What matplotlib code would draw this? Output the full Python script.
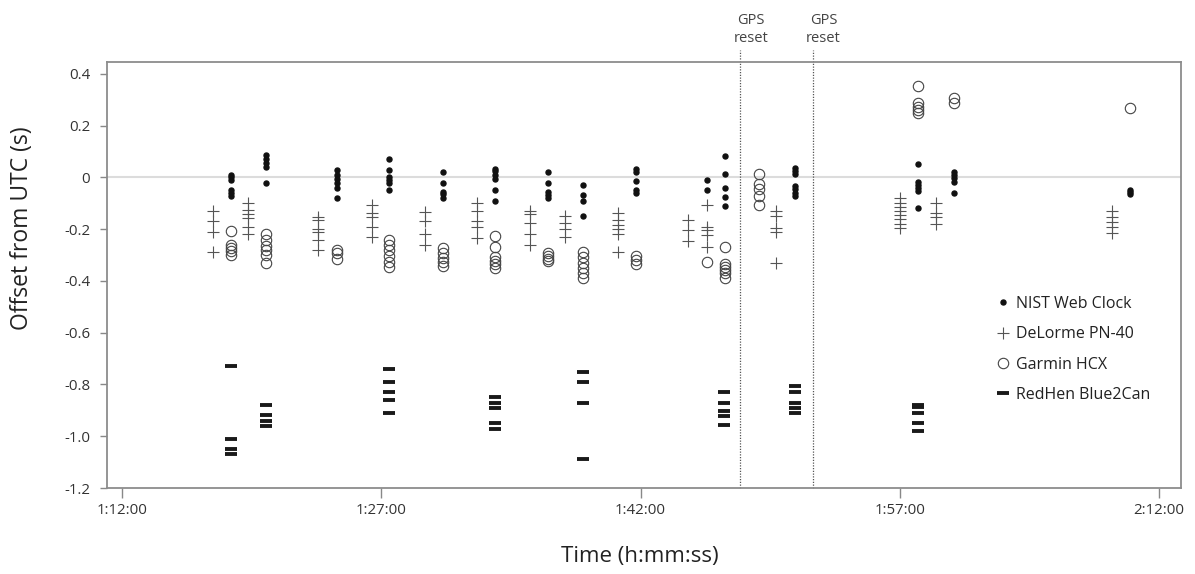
import matplotlib
matplotlib.use("Agg")
import matplotlib.pyplot as plt
from matplotlib.lines import Line2D

plt.rcParams['font.family'] = ['Open Sans', 'DejaVu Sans']

# times are minutes after midnight (78.3 -> 1:18:18)
nist_t = [78.29, 80.33, 84.42, 87.47, 90.56, 93.59, 96.63, 98.66, 101.75,
          105.84, 106.86, 110.91, 118.05, 120.11, 130.29]
nist_v = [[0.01, 0.0, -0.01, -0.05, -0.06, -0.07],
          [0.085, 0.072, 0.057, 0.041, -0.02],
          [0.03, 0.01, -0.005, -0.02, -0.04, -0.08],
          [0.07, 0.027, 0.0, -0.01, -0.023, -0.05],
          [0.02, -0.02, -0.055, -0.065, -0.078],
          [0.033, 0.023, 0.01, -0.007, -0.048, -0.09],
          [0.02, -0.02, -0.055, -0.068, -0.08],
          [-0.03, -0.068, -0.09, -0.15],
          [0.033, 0.02, -0.012, -0.048, -0.059],
          [-0.01, -0.048],
          [0.083, 0.014, -0.042, -0.077, -0.109],
          [0.035, 0.025, 0.014, -0.032, -0.045, -0.059, -0.071],
          [0.051, -0.019, -0.029, -0.04, -0.051, -0.119],
          [0.022, 0.01, -0.003, -0.019, -0.059],
          [-0.048, -0.057, -0.064]]

delorme_t = [77.25, 79.31, 83.36, 86.45, 89.53, 92.56, 95.61, 97.64, 100.72,
             104.77, 105.84, 109.85, 117.04, 119.09, 129.27]
delorme_v = [[-0.128, -0.169, -0.209, -0.289],
             [-0.097, -0.126, -0.141, -0.158, -0.19, -0.22],
             [-0.154, -0.164, -0.2, -0.209, -0.242, -0.28],
             [-0.106, -0.136, -0.154, -0.19, -0.231],
             [-0.135, -0.17, -0.22, -0.26],
             [-0.097, -0.128, -0.169, -0.192, -0.233],
             [-0.128, -0.141, -0.177, -0.218, -0.261],
             [-0.149, -0.177, -0.2, -0.229],
             [-0.136, -0.164, -0.184, -0.2, -0.218, -0.29],
             [-0.164, -0.203, -0.244],
             [-0.106, -0.192, -0.205, -0.222, -0.27],
             [-0.128, -0.149, -0.196, -0.212, -0.329],
             [-0.08, -0.1, -0.113, -0.128, -0.145, -0.162, -0.18, -0.196],
             [-0.097, -0.138, -0.154, -0.18],
             [-0.128, -0.154, -0.174, -0.19, -0.213]]

garmin_t = [78.29, 80.33, 84.42, 87.47, 90.56, 93.59, 96.63, 98.66, 101.75,
            105.84, 106.86, 108.85, 118.05, 120.11, 130.29]
garmin_v = [[-0.208, -0.262, -0.274, -0.285, -0.301],
            [-0.218, -0.241, -0.265, -0.28, -0.30, -0.329],
            [-0.28, -0.293, -0.316],
            [-0.242, -0.261, -0.28, -0.303, -0.325, -0.347],
            [-0.274, -0.293, -0.31, -0.325, -0.342],
            [-0.225, -0.267, -0.306, -0.321, -0.334, -0.351],
            [-0.293, -0.303, -0.314, -0.324],
            [-0.287, -0.308, -0.329, -0.351, -0.37, -0.39],
            [-0.303, -0.319, -0.335],
            [-0.328],
            [-0.27, -0.335, -0.345, -0.357, -0.37, -0.387],
            [0.013, -0.025, -0.045, -0.07, -0.108],
            [0.354, 0.287, 0.274, 0.261, 0.248],
            [0.306, 0.287],
            [0.27]]

redhen_t = [78.29, 80.33, 87.47, 93.59, 98.7, 106.84, 110.92, 118.03]
redhen_v = [[-0.729, -1.011, -1.049, -1.07],
            [-0.879, -0.919, -0.94, -0.96],
            [-0.74, -0.79, -0.83, -0.86, -0.91],
            [-0.85, -0.87, -0.89, -0.95, -0.971],
            [-0.75, -0.79, -0.87, -1.089],
            [-0.83, -0.87, -0.901, -0.92, -0.957],
            [-0.805, -0.83, -0.87, -0.89, -0.91],
            [-0.879, -0.888, -0.911, -0.95, -0.98]]

gps_resets = [107.76, 111.97]

x_ticks = [72, 87, 102, 117, 132]
x_labels = ['1:12:00', '1:27:00', '1:42:00', '1:57:00', '2:12:00']
y_ticks = [0.4, 0.2, 0, -0.2, -0.4, -0.6, -0.8, -1.0, -1.2]
y_labels = ['0.4', '0.2', '0', '-0.2', '-0.4', '-0.6', '-0.8', '-1.0', '-1.2']


def flatten(times, vals):
    xs, ys = [], []
    for t, col in zip(times, vals):
        for v in col:
            xs.append(t)
            ys.append(v)
    return xs, ys


fig = plt.figure(figsize=(11.95, 5.74), dpi=100)
ax = fig.add_axes([0.0895, 0.1498, 0.8988, 0.7422])

ax.axhline(0, color='#dcdcdc', lw=1.5, zorder=0)

x, y = flatten(nist_t, nist_v)
ax.plot(x, y, 'o', ms=3.6, color='#111111', mec='#111111', ls='none')
x, y = flatten(delorme_t, delorme_v)
ax.plot(x, y, '+', ms=8, mew=0.8, color='#555555', ls='none')
x, y = flatten(garmin_t, garmin_v)
ax.plot(x, y, 'o', ms=7.5, mfc='none', mec='#444444', mew=0.8, ls='none')
x, y = flatten(redhen_t, redhen_v)
ax.plot(x, y, '_', ms=8.5, mew=2.8, color='#1a1a1a', ls='none')

for g in gps_resets:
    ax.axvline(g, ymin=0, ymax=1.028, color='#555555', lw=0.9, ls=(0, (1, 1.2)),
               clip_on=False)
    ax.text(g + 0.62, 1.077, 'GPS\nreset', transform=ax.get_xaxis_transform(),
            ha='center', va='center', fontsize=10.5, color='#444444',
            linespacing=1.25)

ax.set_xlim(71.13, 133.27)
ax.set_ylim(-1.2, 0.446)
ax.set_xticks(x_ticks)
ax.set_xticklabels(x_labels)
ax.set_yticks(y_ticks)
ax.set_yticklabels(y_labels)
ax.tick_params(axis='x', length=7, width=1, color='#888888', pad=3.5,
               labelsize=10.8, labelcolor='#333333')
ax.tick_params(axis='y', length=5, width=1, color='#888888', pad=7,
               labelsize=10.8, labelcolor='#333333')
for s in ax.spines.values():
    s.set_color('#8c8c8c')
    s.set_linewidth(1.3)

ax.set_xlabel('Time (h:mm:ss)', fontsize=16, color='#222222')
ax.xaxis.set_label_coords(0.496, -0.136)
ax.set_ylabel('Offset from UTC (s)', fontsize=16.5, color='#222222')
ax.yaxis.set_label_coords(-0.068, 0.61)

handles = [
    Line2D([], [], marker='o', ms=3.6, color='#111111', ls='none'),
    Line2D([], [], marker='+', ms=8, mew=0.8, color='#555555', ls='none'),
    Line2D([], [], marker='o', ms=7.5, mfc='none', mec='#444444', mew=0.8, ls='none'),
    Line2D([], [], marker='_', ms=8.5, mew=2.8, color='#1a1a1a', ls='none'),
]
labels = ['NIST Web Clock', 'DeLorme PN-40', 'Garmin HCX', 'RedHen Blue2Can']
ax.legend(handles, labels, loc='upper left', bbox_to_anchor=(0.813, 0.485),
          frameon=False, fontsize=11.5, handlelength=1.0, handletextpad=0.35,
          labelspacing=0.9, labelcolor='#222222')

fig.savefig('out.png', dpi=100)
